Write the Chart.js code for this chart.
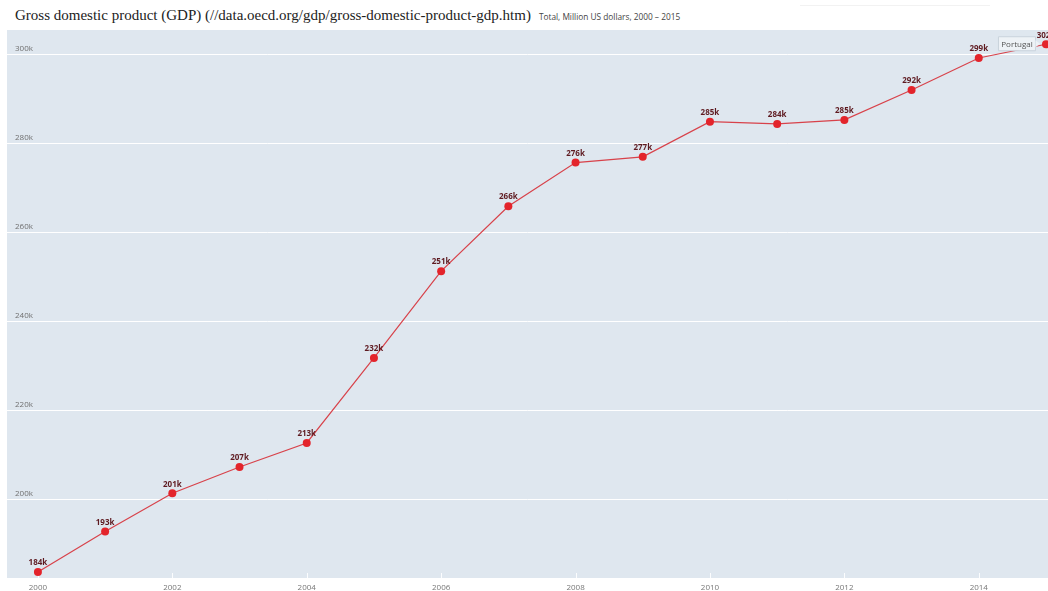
<!DOCTYPE html>
<html>
<head>
<meta charset="utf-8">
<script src="https://cdn.jsdelivr.net/npm/chart.js@4/dist/chart.umd.min.js"></script>
<style>
  html, body { margin: 0; padding: 0; background: #fff; }
  #wrap { position: relative; width: 1048px; height: 591px; overflow: hidden; }
  #title { position: absolute; left: 15px; top: 7px; white-space: nowrap;
           font-family: "Liberation Serif", "DejaVu Serif", serif; font-size: 15px; color: #222; }
  #title span { font-family: "Open Sans", sans-serif; font-size: 8.3px; color: #444; margin-left: 8px; }
  #topline { position: absolute; left: 800px; top: 5px; width: 190px; height: 1px; background: #f2f2f2; }
  canvas { position: absolute; left: 0; top: 0; }
</style>
</head>
<body>
<div id="wrap">
  <div id="title">Gross domestic product (GDP) (//data.oecd.org/gdp/gross-domestic-product-gdp.htm)<span>Total, Million US dollars, 2000 – 2015</span></div>
  <div id="topline"></div>
  <canvas id="c" width="1048" height="591"></canvas>
</div>
<script>
// GDP, total, million US dollars
const years = [2000, 2001, 2002, 2003, 2004, 2005, 2006, 2007, 2008, 2009, 2010, 2011, 2012, 2013, 2014, 2015];
const gdpPortugal = [183600, 192700, 201300, 207200, 212600, 231700, 251200, 265800, 275600, 276900, 284800, 284300, 285200, 291900, 299100, 302200];
const seriesName = 'Portugal';
const yTickValues = [200000, 220000, 240000, 260000, 280000, 300000];
const xTickValues = [2000, 2002, 2004, 2006, 2008, 2010, 2012, 2014];

const kLabel = v => Math.round(v / 1000) + 'k';

// light blue plot background
const plotBackground = {
  id: 'plotBackground',
  beforeDraw(chart) {
    const { ctx, chartArea: a } = chart;
    ctx.save();
    ctx.fillStyle = '#dfe7ef';
    ctx.fillRect(a.left, a.top, a.right - a.left, a.bottom - a.top);
    // small white marks at the bottom edge for each year tick
    const xs = chart.scales.x;
    ctx.strokeStyle = 'rgba(255,255,255,0.9)';
    ctx.lineWidth = 1;
    xTickValues.forEach(v => {
      const px = Math.round(xs.getPixelForValue(v)) + 0.5;
      ctx.beginPath();
      ctx.moveTo(px, a.bottom - 5);
      ctx.lineTo(px, a.bottom);
      ctx.stroke();
    });
    ctx.restore();
  }
};

// value labels above each point, and the series tag near the last point
const pointLabels = {
  id: 'pointLabels',
  afterDatasetsDraw(chart) {
    const { ctx } = chart;
    const meta = chart.getDatasetMeta(0);
    const data = chart.data.datasets[0].data;
    ctx.save();
    ctx.font = 'bold 8px "Open Sans", sans-serif';
    ctx.fillStyle = '#5e1a20';
    ctx.textAlign = 'center';
    ctx.textBaseline = 'bottom';
    meta.data.forEach((pt, i) => {
      ctx.fillText(kLabel(data[i].y), pt.x, pt.y - 5);
    });

    const last = meta.data[meta.data.length - 1];
    const bx = last.x - 48, by = last.y - 8, bw = 37, bh = 14;
    ctx.fillStyle = '#eef2f6';
    ctx.strokeStyle = '#c9d3dc';
    ctx.lineWidth = 1;
    ctx.beginPath();
    ctx.rect(bx + 0.5, by + 0.5, bw, bh);
    ctx.fill();
    ctx.stroke();
    ctx.fillStyle = '#eef2f6';
    ctx.beginPath();
    ctx.moveTo(bx + bw + 0.5, by + 4);
    ctx.lineTo(bx + bw + 5, by + bh / 2 + 0.5);
    ctx.lineTo(bx + bw + 0.5, by + bh - 3);
    ctx.fill();
    ctx.font = '8px "Open Sans", sans-serif';
    ctx.fillStyle = '#555';
    ctx.textAlign = 'center';
    ctx.textBaseline = 'middle';
    ctx.fillText(seriesName, bx + bw / 2 + 0.5, by + bh / 2 + 1);
    ctx.restore();
  }
};

new Chart(document.getElementById('c'), {
  type: 'line',
  data: {
    datasets: [{
      label: seriesName,
      data: years.map((y, i) => ({ x: y, y: gdpPortugal[i] })),
      borderColor: '#d8424a',
      borderWidth: 1.2,
      backgroundColor: '#e3242b',
      pointBackgroundColor: '#e3242b',
      pointBorderColor: '#e3242b',
      pointRadius: 4,
      pointBorderWidth: 0,
      tension: 0,
      clip: false
    }]
  },
  options: {
    responsive: false,
    animation: false,
    events: [],
    layout: { autoPadding: false, padding: { top: 30, right: 0, left: 0, bottom: 0 } },
    plugins: { legend: { display: false }, tooltip: { enabled: false }, title: { display: false } },
    scales: {
      x: {
        type: 'linear',
        min: 1999.54,
        max: 2015.03,
        afterBuildTicks: s => { s.ticks = xTickValues.map(v => ({ value: v })); },
        afterFit: s => { s.height = 13; },
        grid: { display: false, drawTicks: false },
        border: { display: false },
        ticks: {
          padding: 5,
          color: '#777',
          font: { family: '"Open Sans", sans-serif', size: 8 },
          maxRotation: 0,
          autoSkip: false,
          callback: v => String(v)
        }
      },
      y: {
        min: 182250,
        max: 305400,
        afterBuildTicks: s => { s.ticks = yTickValues.map(v => ({ value: v })); },
        afterFit: s => { s.width = 7; },
        grid: { color: '#ffffff', lineWidth: 1, drawTicks: false },
        border: { display: false },
        ticks: {
          mirror: true,
          padding: 8,
          labelOffset: -5,
          color: '#6f6f6f',
          font: { family: '"Open Sans", sans-serif', size: 8 },
          callback: v => kLabel(v)
        }
      }
    }
  },
  plugins: [plotBackground, pointLabels]
});
</script>
</body>
</html>
